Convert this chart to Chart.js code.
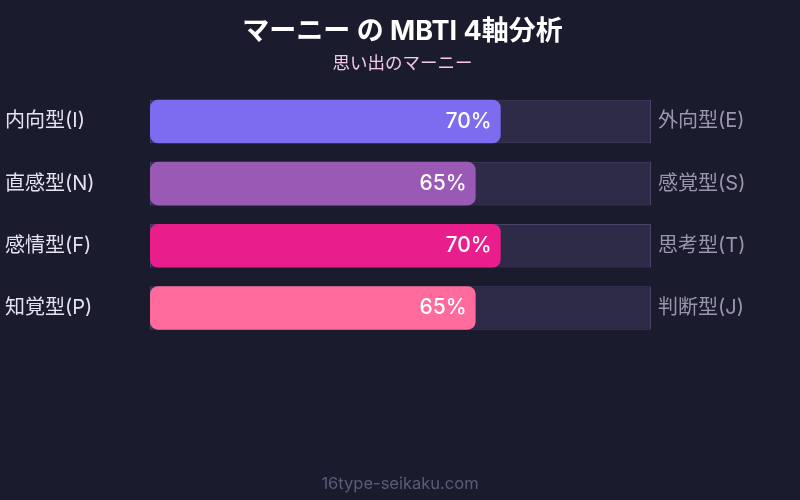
<!DOCTYPE html>
<html>
<head>
<meta charset="utf-8">
<script src="https://cdn.jsdelivr.net/npm/chart.js@4.4.1/dist/chart.umd.min.js"></script>
<style>
  html, body { margin: 0; padding: 0; background: #1b1b2e; }
  #wrap { width: 800px; height: 500px; }
</style>
</head>
<body>
<div id="wrap"><canvas id="mbtiChart" width="800" height="500"></canvas></div>
<script>
// MBTI 4-axis chart

const leftLabels = ['内向型(I)', '直感型(N)', '感情型(F)', '知覚型(P)'];
const rightLabels = ['外向型(E)', '感覚型(S)', '思考型(T)', '判断型(J)'];
const scores = [70, 65, 70, 65];
const trackValues = [100, 100, 100, 100];
const barColors = ['#7b6cf0', '#9b59b6', '#e91e8c', '#ff6b9d'];

const FONT = "'Inter', 'Noto Sans CJK JP', sans-serif";

// value text at the end of each bar
const valueLabels = {
    id: 'valueLabels',
    afterDatasetsDraw(chart) {
        const ctx = chart.ctx;
        const meta = chart.getDatasetMeta(0);
        ctx.save();
        ctx.font = '500 21px ' + FONT;
        ctx.fillStyle = '#ffffff';
        ctx.textAlign = 'right';
        ctx.textBaseline = 'middle';
        meta.data.forEach((bar, i) => {
            ctx.fillText(scores[i] + '%', bar.x - 9, bar.y);
        });
        ctx.restore();
    }
};

// site name at the bottom
const footer = {
    id: 'footer',
    afterDraw(chart) {
        const ctx = chart.ctx;
        ctx.save();
        ctx.font = '16.5px ' + FONT;
        ctx.fillStyle = '#5c5b7a';
        ctx.textAlign = 'center';
        ctx.textBaseline = 'middle';
        ctx.fillText('16type-seikaku.com', chart.width / 2, 484);
        ctx.restore();
    }
};

const ctx = document.getElementById('mbtiChart').getContext('2d');

new Chart(ctx, {
    type: 'bar',
    data: {
        labels: leftLabels,
        datasets: [
            {
                label: 'score',
                data: scores,
                backgroundColor: barColors,
                borderWidth: 0,
                borderRadius: 8,
                borderSkipped: false,
                grouped: false,
                barPercentage: 0.7,
                categoryPercentage: 1,
                order: 1
            },
            {
                label: 'track',
                data: trackValues,
                backgroundColor: '#2d2b48',
                borderColor: '#45436a',
                borderWidth: 1,
                borderSkipped: false,
                grouped: false,
                barPercentage: 0.7,
                categoryPercentage: 1,
                order: 2
            }
        ]
    },
    options: {
        indexAxis: 'y',
        responsive: false,
        animation: false,
        layout: { padding: { left: 5, right: 0, top: 0, bottom: 161 } },
        scales: {
            x: { display: false, min: 0, max: 100 },
            y: {
                position: 'left',
                grid: { display: false, drawTicks: false },
                border: { display: false },
                ticks: { color: '#e2e2f0', font: { family: FONT, size: 20 }, crossAlign: 'far', padding: 0 },
                afterFit(scale) { scale.width = 145; }
            },
            y2: {
                type: 'category',
                labels: rightLabels,
                position: 'right',
                grid: { display: false, drawTicks: false },
                border: { display: false },
                ticks: { color: '#9897ad', font: { family: FONT, size: 20 }, padding: 7 },
                afterFit(scale) { scale.width = 149; }
            }
        },
        plugins: {
            legend: { display: false },
            tooltip: { enabled: false },
            title: {
                display: true,
                text: 'マーニー の MBTI 4軸分析',
                color: '#ffffff',
                font: { family: FONT, size: 27, weight: 'bold' },
                padding: { top: 16, bottom: 4 }
            },
            subtitle: {
                display: true,
                text: '思い出のマーニー',
                color: '#f3c8ea',
                font: { family: FONT, size: 17.5 },
                padding: { top: 1, bottom: 16 }
            }
        }
    },
    plugins: [valueLabels, footer]
});
</script>
</body>
</html>
